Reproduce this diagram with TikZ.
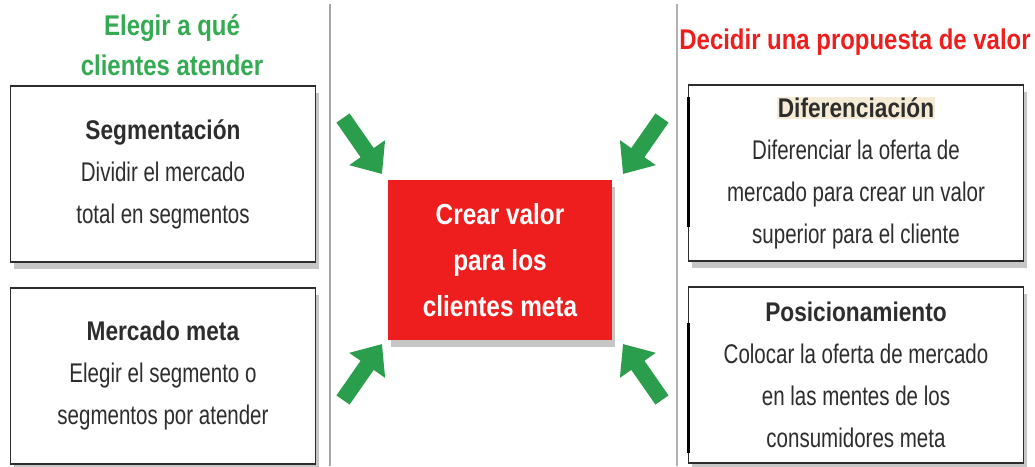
\documentclass[tikz,border=0pt]{standalone}
\usepackage{fontspec}
\setmainfont{Liberation Sans}[FakeStretch=0.76,BoldFeatures={FakeStretch=0.84}]
\usetikzlibrary{arrows.meta,shadows}
\definecolor{leafg}{RGB}{52,170,82}
\definecolor{arrowg}{RGB}{42,158,76}
\definecolor{valred}{RGB}{238,30,30}
\definecolor{inkdark}{RGB}{45,45,45}
\definecolor{hilite}{RGB}{246,236,214}

\begin{document}
\begin{tikzpicture}[x=1pt,y=-1pt,
  card/.style={draw=inkdark,line width=1.6pt,fill=white,minimum width=305pt,minimum height=176pt,
    align=center,text=inkdark,font=\fontsize{27}{42}\selectfont,
    drop shadow={shadow xshift=3pt,shadow yshift=-7pt,opacity=0.45,fill=gray}},
  title/.style={align=center,font=\bfseries\fontsize{28.5}{40}\selectfont},
  go/.style={arrowg,line width=16pt,-{Triangle[width=42pt,length=26pt]}}]
\useasboundingbox (0,0) rectangle (1035,466);

% panel edges
\draw[gray!70,line width=2.5pt] (330,4) -- (330,466);
\draw[gray!60,line width=2pt] (677,4) -- (677,466);

% left column
\node[title,text=leafg] (tleft) at (172,45) {Elegir a qué\\clientes atender};
\node[card] (seg) at (163,174) {\textbf{Segmentación}\\Dividir el mercado\\total en segmentos};
\node[card] (meta) at (163,376) {\textbf{Mercado meta}\\Elegir el segmento o\\segmentos por atender};

% right column
\node[title,text=valred] (tright) at (855,42) {Decidir una propuesta de valor};
\node[card,minimum width=335pt] (dif) at (856,173)
  {{\setlength\fboxsep{1pt}\colorbox{hilite}{\textbf{Diferenciación}}}\\Diferenciar la oferta de\\mercado para crear un valor\\superior para el cliente};
\node[card,minimum width=335pt] (pos) at (856,375)
  {\textbf{Posicionamiento}\\Colocar la oferta de mercado\\en las mentes de los\\consumidores meta};
\draw[black,line width=3pt] (688,97) -- (688,227);
\draw[black,line width=3pt] (688,323) -- (688,453);

% centre
\node[fill=valred,text=white,title,font=\bfseries\fontsize{29}{46}\selectfont,
  minimum width=224pt,minimum height=160pt,
  drop shadow={shadow xshift=3pt,shadow yshift=-7pt,opacity=0.45,fill=gray}] (valor) at (500,260)
  {Crear valor\\para los\\clientes meta};

% arrows into the centre
\coordinate (s1) at (343,118); \coordinate (e1) at (382,174);
\coordinate (s2) at (343,400); \coordinate (e2) at (382,344);
\coordinate (s3) at (662,118); \coordinate (e3) at (623,174);
\coordinate (s4) at (662,400); \coordinate (e4) at (623,344);
\foreach \i in {1,...,4}
  \draw[go] (s\i) -- (e\i);
\end{tikzpicture}
\end{document}
